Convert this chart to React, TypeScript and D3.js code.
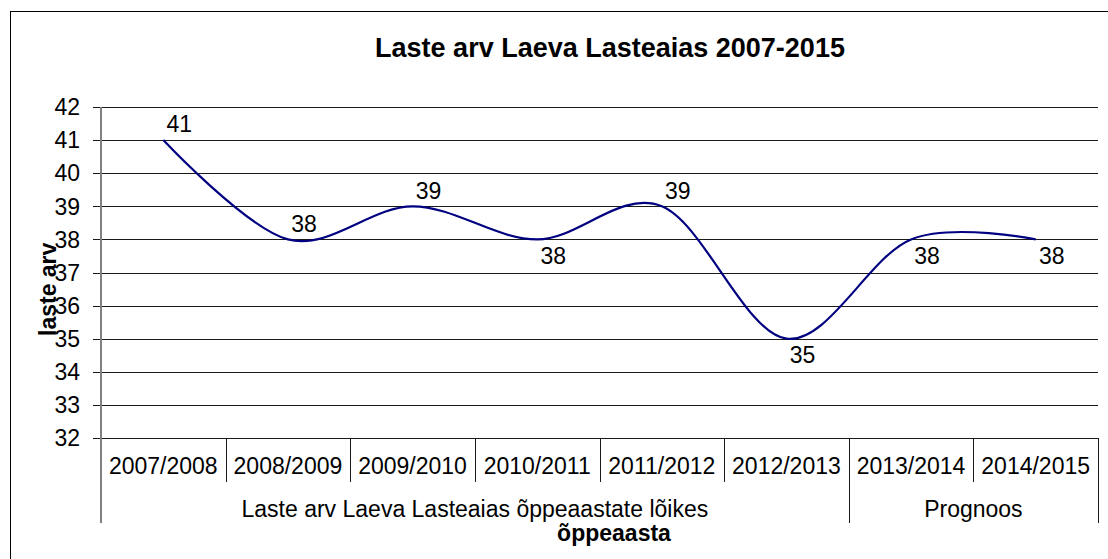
import React from 'react';
import * as d3 from 'd3';

// chart data
const categories = [
  '2007/2008', '2008/2009', '2009/2010', '2010/2011',
  '2011/2012', '2012/2013', '2013/2014', '2014/2015'
];
const values = [41, 38, 39, 38, 39, 35, 38, 38];
const labelSide = ['above', 'above', 'above', 'below', 'above', 'below', 'below', 'below'];
const groupLabels = ['Laste arv Laeva Lasteaias õppeaastate lõikes', 'Prognoos'];
const groupSizes = [6, 2];
const yTicks = [32, 33, 34, 35, 36, 37, 38, 39, 40, 41, 42];

const W = 1108;
const H = 559;
const FONT = '"Liberation Sans", Arial, sans-serif';

const App: React.FC = () => {
  const left = 101;
  const right = 1098;
  const top = 107;
  const bottom = 438;

  const x = d3.scaleBand<string>().domain(categories).range([left, right]).padding(0);
  const y = d3.scaleLinear().domain([32, 42]).range([bottom, top]);

  const line = d3
    .line<number>()
    .x((_, i) => x(categories[i])! + x.bandwidth() / 2)
    .y(d => y(d))
    .curve(d3.curveCardinal.tension(0));

  // group boundaries along the category axis
  const groupEdges: number[] = [];
  let acc = 0;
  groupSizes.forEach(n => {
    groupEdges.push(acc);
    acc += n;
  });

  const edgeX = (i: number) => (i >= categories.length ? right : x(categories[i])!);

  return (
    <svg
      width={W}
      height={H}
      style={{ position: 'absolute', left: 0, top: 0, background: '#fff' }}
      fontFamily={FONT}
    >
      <rect x={10.5} y={11.5} width={1200} height={700} fill="#fff" stroke="#000" strokeWidth={1} />

      {/* title */}
      <text x={610} y={57} textAnchor="middle" fontSize={27} fontWeight="bold" fill="#000">
        Laste arv Laeva Lasteaias 2007-2015
      </text>

      {/* gridlines + y ticks */}
      {yTicks.map(t => (
        <g key={t}>
          <line
            x1={left - 8}
            x2={right}
            y1={Math.round(y(t)) + 0.5}
            y2={Math.round(y(t)) + 0.5}
            stroke="#1a1a1a"
            strokeWidth={1}
          />
          <text x={80} y={y(t)} dy="0.36em" textAnchor="end" fontSize={23} fill="#000">
            {t}
          </text>
        </g>
      ))}

      {/* category separators */}
      {categories.map((c, i) =>
        i === 0 || groupEdges.includes(i) ? null : (
          <line
            key={c}
            x1={Math.round(edgeX(i)) + 0.5}
            x2={Math.round(edgeX(i)) + 0.5}
            y1={bottom}
            y2={482}
            stroke="#1a1a1a"
          />
        )
      )}
      {[...groupEdges.slice(1), categories.length].map(i => (
        <line
          key={'g' + i}
          x1={Math.round(edgeX(i)) + 0.5}
          x2={Math.round(edgeX(i)) + 0.5}
          y1={bottom}
          y2={523}
          stroke="#1a1a1a"
        />
      ))}

      {/* left axis */}
      <line x1={left} x2={left} y1={top} y2={523} stroke="#808080" strokeWidth={2} />

      {/* category labels */}
      {categories.map(c => (
        <text key={c} x={x(c)! + x.bandwidth() / 2} y={474} textAnchor="middle" fontSize={23} fill="#000">
          {c}
        </text>
      ))}

      {/* group labels */}
      {groupLabels.map((g, gi) => {
        const a = edgeX(groupEdges[gi]);
        const b = edgeX(groupEdges[gi] + groupSizes[gi]);
        return (
          <text key={g} x={(a + b) / 2} y={517} textAnchor="middle" fontSize={23} fill="#000">
            {g}
          </text>
        );
      })}

      {/* axis titles */}
      <text x={614} y={541} textAnchor="middle" fontSize={23} fontWeight="bold" fill="#000">
        õppeaasta
      </text>
      <text
        transform="translate(56,336) rotate(-90)"
        textAnchor="start"
        fontSize={23}
        fontWeight="bold"
        fill="#000"
      >
        laste arv
      </text>

      {/* series */}
      <path d={line(values) ?? ''} fill="none" stroke="#000080" strokeWidth={2.2} />

      {values.map((v, i) => (
        <text
          key={i}
          x={x(categories[i])! + x.bandwidth() / 2 + 16}
          y={y(v) + (labelSide[i] === 'above' ? -16 : 16)}
          dy="0.36em"
          textAnchor="middle"
          fontSize={23}
          fill="#000"
        >
          {v}
        </text>
      ))}
    </svg>
  );
};

export default App;
